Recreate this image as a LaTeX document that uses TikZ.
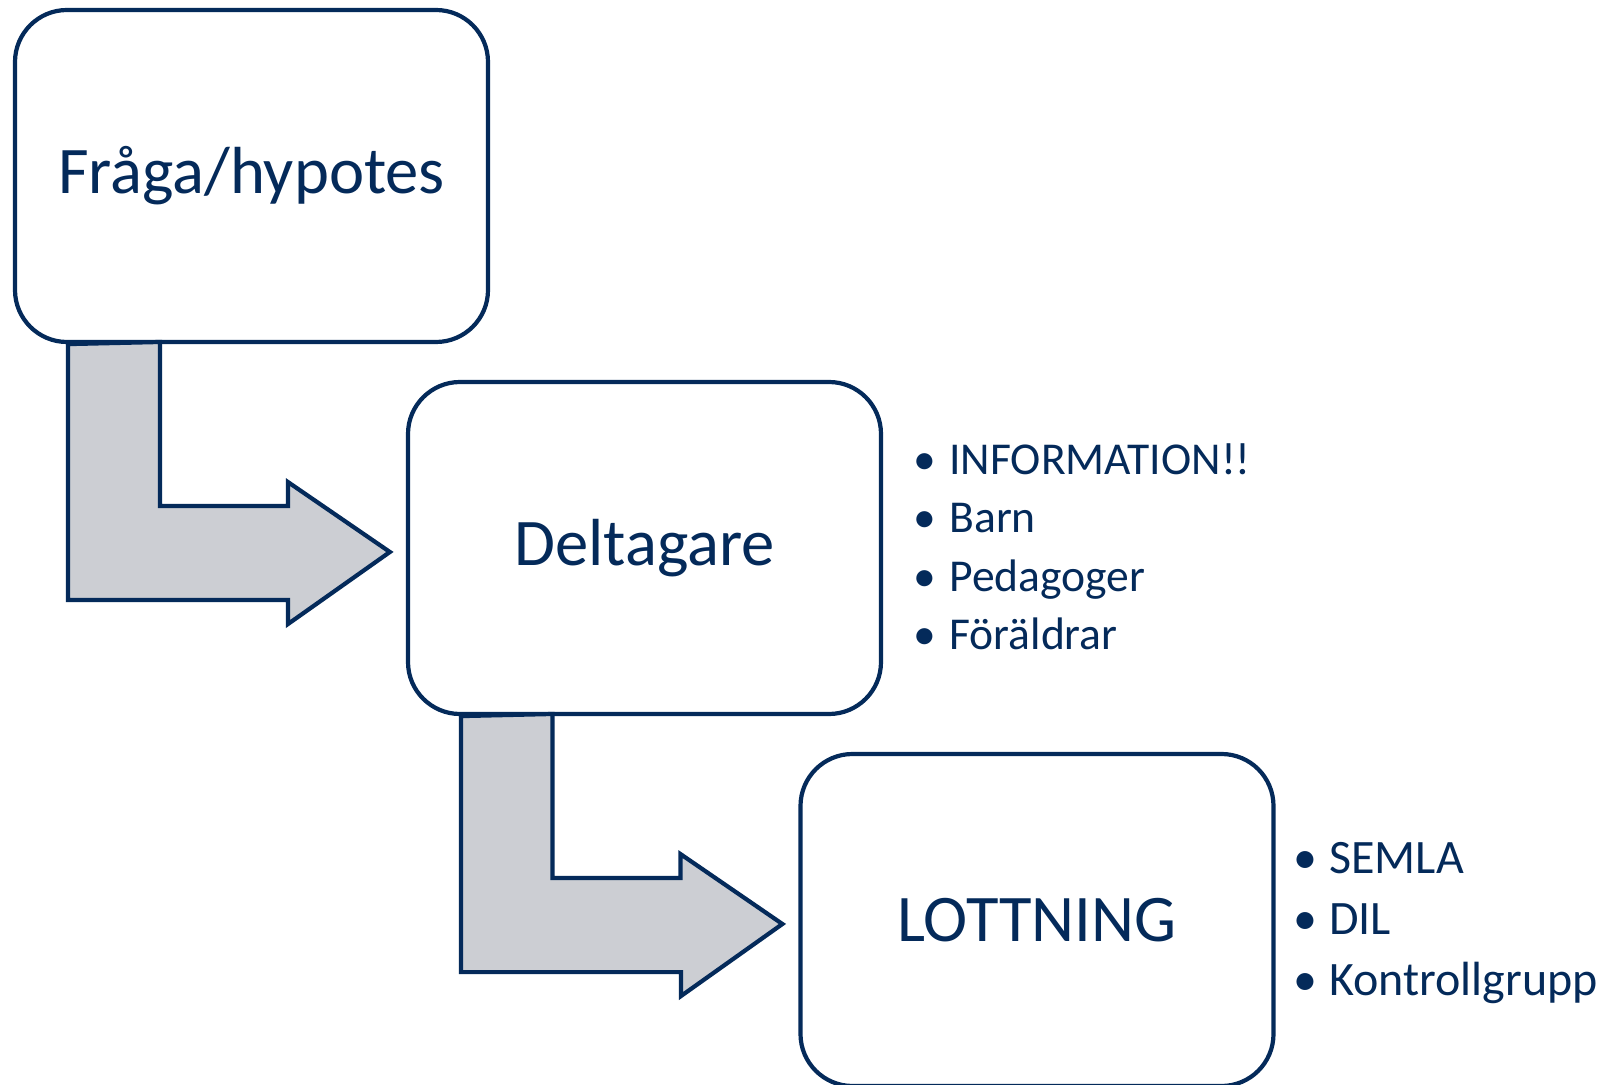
\documentclass[tikz,border=0pt]{standalone}
\usepackage{fontspec}
\setmainfont{Carlito}

\definecolor{navy}{RGB}{4,42,90}
\definecolor{arrowgray}{RGB}{204,206,211}

\tikzset{
  stepbox/.style={draw=navy, line width=2.1pt, fill=white, rounded corners=26pt,
    minimum width=236.5pt, minimum height=166pt, inner sep=0pt, text=navy,
    font=\fontsize{33.3}{40}\selectfont},
  bentarrow/.style={draw=navy, line width=2.1pt, fill=arrowgray},
  item/.style={anchor=base west, inner sep=0pt, text=navy},
}

\begin{document}
\begin{tikzpicture}[x=0.5pt, y=-0.5pt]
\useasboundingbox (0,0) rectangle (1602,1085);

\node [stepbox] (fraga) at (251.5,176) {Fråga/hypotes};
\node [stepbox] (deltagare) at (644.5,548) {Deltagare};
\node [stepbox] (lottning) at (1037,920) {LOTTNING};

% bent arrows between the steps
\foreach \a/\b in {fraga/deltagare, deltagare/lottning}
\draw [bentarrow] ([xshift=27.5pt]\a.south west) -- ++(0,256) -- ++(220,0) -- ++(0,24)
  -- ([xshift=-8pt,yshift=-2pt]\b.west) -- ++(-102,-70) -- ++(0,24) -- ++(-128,0) -- ++(0,-164) -- cycle;

% bullet lists
\foreach \t [count=\i] in {INFORMATION!!,Barn,Pedagoger,Föräldrar}
\node [item, font=\fontsize{22.8}{27}\selectfont] (info\i) at (913,{475+58*(\i-1)}) {\makebox[18pt][l]{•}\t};
\foreach \t [count=\i] in {SEMLA,DIL,Kontrollgrupp}
\node [item, font=\fontsize{24}{29}\selectfont] (lott\i) at (1293,{873+61*(\i-1)}) {\makebox[18pt][l]{•}\t};
\end{tikzpicture}
\end{document}
